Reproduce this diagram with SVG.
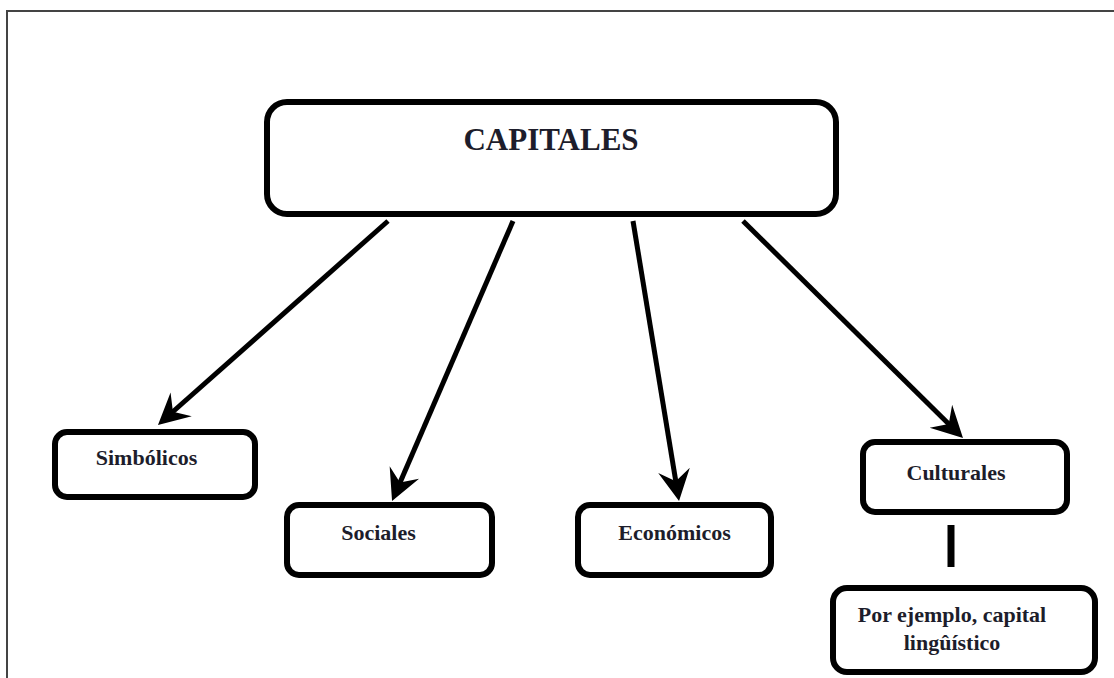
<svg xmlns="http://www.w3.org/2000/svg" width="1114" height="678" viewBox="0 0 1114 678">
  <style>
    .frame { fill: none; stroke: #444; stroke-width: 2; }
    .box { fill: #fff; stroke: #000; stroke-width: 6; }
    .label { font-family: "Liberation Serif", "Times New Roman", serif; font-weight: bold; fill: #1d1d2b; font-size: 22px; text-anchor: middle; }
    .title { font-size: 31px; }
    .edge { fill: none; stroke: #000; stroke-width: 5; marker-end: url(#head); }
    .link { fill: none; stroke: #000; stroke-width: 7; }
  </style>
  <defs>
    <marker id="head" markerUnits="userSpaceOnUse" markerWidth="40" markerHeight="40" viewBox="-20 -20 40 40" refX="0" refY="0" orient="auto" overflow="visible">
      <path d="M15,0 L-16,-16 L-5,0 L-16,16 Z" fill="#000"/>
    </marker>
  </defs>
  <rect width="1114" height="678" fill="#fff"/>
  <rect class="frame" x="7" y="11" width="1130" height="700"/>

  <g id="connectors">
    <line class="edge" x1="388" y1="221" x2="169.2" y2="415"/>
    <line class="edge" x1="513" y1="221" x2="398" y2="487.2"/>
    <line class="edge" x1="633" y1="221" x2="676.6" y2="486.2"/>
    <line class="edge" x1="743" y1="221" x2="952.3" y2="427.5"/>
    <line class="link" x1="951" y1="525" x2="951" y2="567"/>
  </g>

  <g id="capitales">
    <rect class="box" x="267" y="102" width="569" height="112" rx="20"/>
    <text class="label title" x="551" y="150">CAPITALES</text>
  </g>
  <g id="simbolicos">
    <rect class="box" x="55" y="432" width="200" height="65" rx="12"/>
    <text class="label" x="146.5" y="465">Simbólicos</text>
  </g>
  <g id="sociales">
    <rect class="box" x="287" y="505" width="205" height="70" rx="12"/>
    <text class="label" x="378.5" y="540">Sociales</text>
  </g>
  <g id="economicos">
    <rect class="box" x="578" y="505" width="193" height="70" rx="12"/>
    <text class="label" x="674.5" y="540">Económicos</text>
  </g>
  <g id="culturales">
    <rect class="box" x="863" y="442" width="204" height="70" rx="12"/>
    <text class="label" x="956" y="480">Culturales</text>
  </g>
  <g id="ejemplo">
    <rect class="box" x="833" y="588" width="262" height="84" rx="14"/>
    <text class="label" x="952" y="622">Por ejemplo, capital</text>
    <text class="label" x="952" y="650">lingûístico</text>
  </g>
</svg>
